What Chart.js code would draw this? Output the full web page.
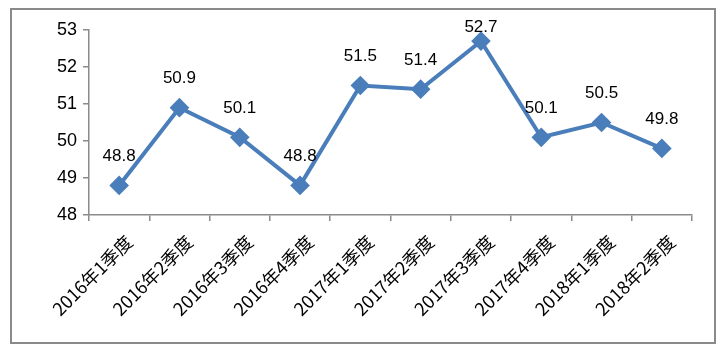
<!DOCTYPE html>
<html>
<head>
<meta charset="utf-8">
<script src="https://cdn.jsdelivr.net/npm/chart.js@4"></script>
<style>
  html, body { margin: 0; padding: 0; background: #fff; }
  #box {
    position: absolute; left: 10px; top: 8px;
    width: 702px; height: 332px;
    border: 2px solid #8a8a8a;
  }
</style>
</head>
<body>
<div id="box"><canvas id="chart" width="702" height="332"></canvas></div>
<script>
// quarters and index values
const quarters = ['2016年1季度', '2016年2季度', '2016年3季度', '2016年4季度', '2017年1季度',
  '2017年2季度', '2017年3季度', '2017年4季度', '2018年1季度', '2018年2季度'];
const values = [48.8, 50.9, 50.1, 48.8, 51.5, 51.4, 52.7, 50.1, 50.5, 49.8];
const yTicks = [48, 49, 50, 51, 52, 53];

const numFont = '"Liberation Sans", Arial, sans-serif';
const lineColor = '#4a7ebb';

// draw value text above every point (kept inside the top of the plot like Excel does)
const pointLabels = {
  id: 'pointLabels',
  afterDatasetsDraw(chart) {
    const ctx = chart.ctx;
    const meta = chart.getDatasetMeta(0);
    ctx.save();
    ctx.font = '17px ' + numFont;
    ctx.fillStyle = '#000';
    ctx.textAlign = 'center';
    ctx.textBaseline = 'middle';
    meta.data.forEach((pt, i) => {
      const y = Math.max(pt.y - 29, chart.chartArea.top - 3);
      ctx.fillText(values[i].toFixed(1), pt.x, y);
    });
    ctx.restore();
  }
};

new Chart(document.getElementById('chart').getContext('2d'), {
  type: 'line',
  data: {
    labels: quarters,
    datasets: [{
      data: values,
      borderColor: lineColor,
      backgroundColor: lineColor,
      borderWidth: 4,
      pointStyle: 'rectRot',
      pointRadius: 7,
      pointHoverRadius: 7,
      tension: 0
    }]
  },
  options: {
    responsive: false,
    animation: false,
    layout: { padding: { top: 20, right: 22, left: 0, bottom: 0 } },
    plugins: { legend: { display: false }, tooltip: { enabled: false } },
    scales: {
      x: {
        offset: true,
        grid: { offset: true, drawOnChartArea: false, drawTicks: true, tickLength: 6, color: '#8a8a8a', lineWidth: 1.5 },
        border: { color: '#8a8a8a', width: 1.5 },
        ticks: {
          color: '#000',
          font: { family: '"Noto Sans CJK SC", sans-serif', size: 18 },
          minRotation: 45, maxRotation: 45, padding: 10, labelOffset: 10, autoSkip: false
        },
        afterFit(scale) { scale.height = 127; }
      },
      y: {
        min: 48, max: 53,
        afterBuildTicks(scale) { scale.ticks = yTicks.map(v => ({ value: v })); },
        grid: { drawOnChartArea: false, drawTicks: true, tickLength: 6, color: '#8a8a8a', lineWidth: 1.5 },
        border: { color: '#8a8a8a', width: 1.5 },
        ticks: { color: '#000', font: { family: numFont, size: 18 }, padding: 6 },
        afterFit(scale) { scale.width = 77; }
      }
    }
  },
  plugins: [pointLabels]
});
</script>
</body>
</html>
